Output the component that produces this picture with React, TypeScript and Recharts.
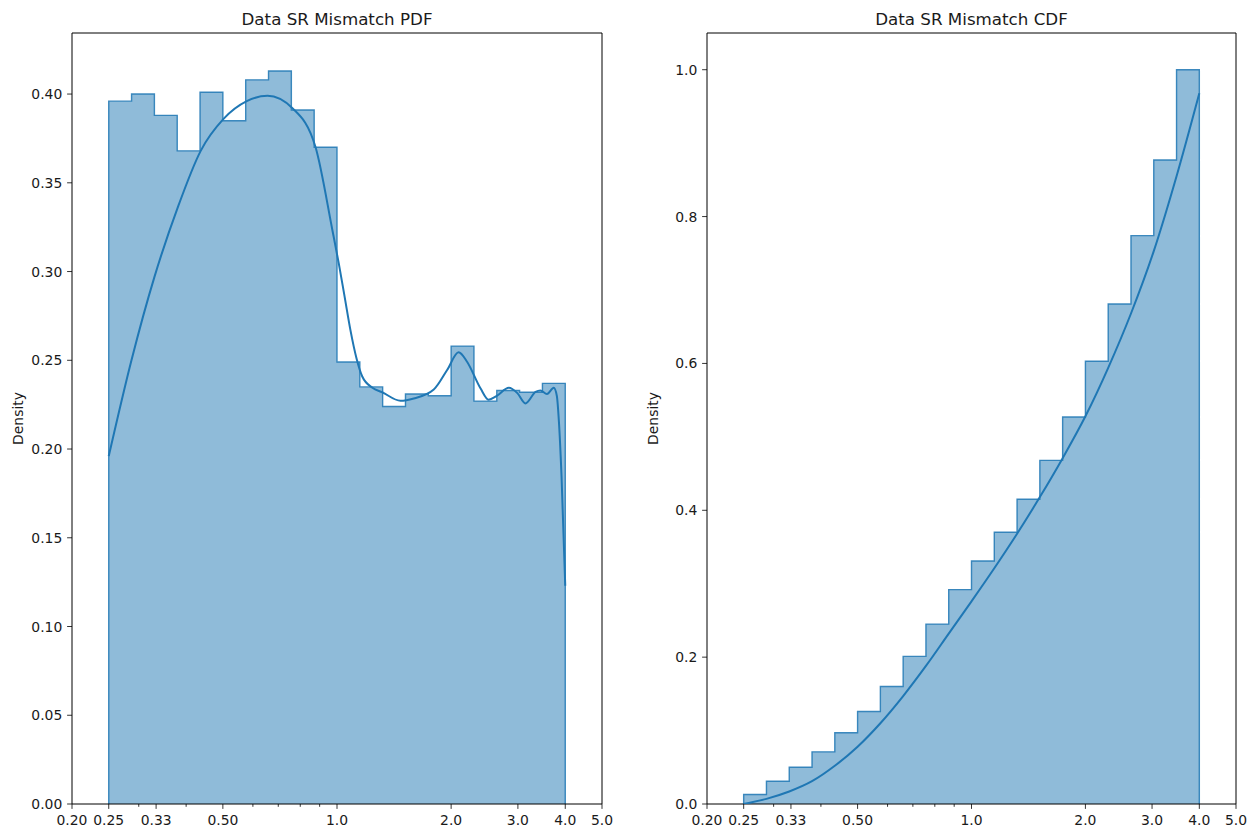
import { ComposedChart, Area, Line, XAxis, YAxis, ReferenceArea } from 'recharts';

// log-spaced bin edges shared by both histograms (20 bins, 0.25 .. 4.0)
const binEdges = [
  0.25, 0.28717, 0.32988, 0.37893, 0.43528, 0.5, 0.57435, 0.65975, 0.75786, 0.87055,
  1.0, 1.1487, 1.3195, 1.5157, 1.7411, 2.0, 2.2974, 2.639, 3.0314, 3.4822, 4.0,
];

const pdfHeights = [
  0.396, 0.4, 0.388, 0.368, 0.401, 0.385, 0.408, 0.413, 0.391, 0.37,
  0.249, 0.235, 0.224, 0.231, 0.23, 0.258, 0.227, 0.233, 0.232, 0.237,
];

const cdfHeights = [
  0.013, 0.031, 0.05, 0.071, 0.097, 0.126, 0.16, 0.201, 0.245, 0.292,
  0.331, 0.37, 0.415, 0.468, 0.527, 0.603, 0.681, 0.774, 0.877, 1.0,
];

// kde curve of the pdf panel
const pdfKdeX = [
  0.25, 0.287, 0.33, 0.38, 0.437, 0.502, 0.578, 0.656, 0.763, 0.878,
  0.973, 1.01, 1.047, 1.085, 1.126, 1.165, 1.24, 1.316, 1.47, 1.594,
  1.8, 1.952, 2.093, 2.203, 2.39, 2.51, 2.64, 2.84, 2.99, 3.14,
  3.34, 3.44, 3.58, 3.73, 3.8, 3.85, 3.91, 4.0,
];
const pdfKdeY = [
  0.196, 0.25, 0.297, 0.336, 0.368, 0.386, 0.396, 0.399, 0.392, 0.37,
  0.323, 0.305, 0.286, 0.267, 0.251, 0.241, 0.2345, 0.232, 0.2272, 0.2285,
  0.2335, 0.2445, 0.2545, 0.2492, 0.2342, 0.2278, 0.23, 0.2345, 0.2315, 0.2257,
  0.2322, 0.233, 0.231, 0.2345, 0.23, 0.215, 0.185, 0.123,
];

// kde curve of the cdf panel, sampled on the bin edges
const cdfKdeY = [
  0.0, 0.007, 0.017, 0.031, 0.052, 0.078, 0.11, 0.147, 0.188, 0.232,
  0.276, 0.321, 0.368, 0.418, 0.471, 0.528, 0.594, 0.668, 0.753, 0.855, 0.968,
];

const xTicks = [0.2, 0.25, 1 / 3, 0.5, 1, 2, 3, 4, 5];
const xTickLabels = ['0.20', '0.25', '0.33', '0.50', '1.0', '2.0', '3.0', '4.0', '5.0'];
const xMinorTicks = [0.3, 0.4, 0.6, 0.7, 0.8, 0.9];

const pdfYTicks = [0, 0.05, 0.1, 0.15, 0.2, 0.25, 0.3, 0.35, 0.4];
const cdfYTicks = [0, 0.2, 0.4, 0.6, 0.8, 1.0];

const BLUE = '#1f77b4';
const FONT = '"DejaVu Sans", sans-serif';
const TEXT = '#1a1a1a';

function stepData(heights: number[]) {
  const pts = [{ x: binEdges[0], y: 0 }];
  heights.forEach((h, i) => pts.push({ x: binEdges[i], y: h }));
  pts.push({ x: binEdges[binEdges.length - 1], y: heights[heights.length - 1] });
  pts.push({ x: binEdges[binEdges.length - 1], y: 0 });
  return pts;
}

function XTick({ x, y, payload }: any) {
  const idx = xTicks.indexOf(payload.value);
  const major = idx >= 0;
  return (
    <g>
      <line x1={x} x2={x} y1={y} y2={y + (major ? 4.9 : 2.8)} stroke="#000" strokeWidth={0.8} />
      {major && (
        <text x={x} y={y + 20.5} textAnchor="middle" fontFamily={FONT} fontSize={13.9} fill={TEXT}>
          {xTickLabels[idx]}
        </text>
      )}
    </g>
  );
}

function makeYTick(digits: number) {
  return ({ x, y, payload }: any) => (
    <g>
      <line x1={x - 4.9} x2={x} y1={y} y2={y} stroke="#000" strokeWidth={0.8} />
      <text x={x - 9.7} y={y} dy="0.36em" textAnchor="end" fontFamily={FONT} fontSize={13.9} fill={TEXT}>
        {payload.value.toFixed(digits)}
      </text>
    </g>
  );
}

interface PanelProps {
  left: number;
  width: number;
  marginLeft: number;
  marginRight: number;
  title: string;
  hist: number[];
  kdeX: number[];
  kdeY: number[];
  yMax: number;
  yTicks: number[];
  digits: number;
}

const HEIGHT = 828;
const TOP = 33;
const X_AXIS_H = 24;
const Y_AXIS_W = 60;

function Panel({ left, width, marginLeft, marginRight, title, hist, kdeX, kdeY, yMax, yTicks, digits }: PanelProps) {
  const histData = stepData(hist);
  const kdeData = kdeX.map((x, i) => ({ x, y: kdeY[i] }));
  const plotLeft = marginLeft + Y_AXIS_W;
  const plotRight = width - marginRight;
  const plotBottom = HEIGHT - X_AXIS_H;

  return (
    <div style={{ position: 'absolute', left, top: 0, width, height: HEIGHT }}>
      <ComposedChart
        width={width}
        height={HEIGHT}
        margin={{ top: TOP, right: marginRight, bottom: 0, left: marginLeft }}
      >
        <XAxis
          dataKey="x"
          type="number"
          scale="log"
          domain={[0.2, 5]}
          allowDataOverflow
          ticks={[...xTicks, ...xMinorTicks]}
          interval={0}
          tick={<XTick />}
          tickLine={false}
          axisLine={false}
          tickSize={0}
          tickMargin={0}
          height={X_AXIS_H}
        />
        <YAxis
          type="number"
          domain={[0, yMax]}
          allowDataOverflow
          ticks={yTicks}
          interval={0}
          tick={makeYTick(digits)}
          tickLine={false}
          axisLine={false}
          tickSize={0}
          tickMargin={0}
          width={Y_AXIS_W}
        />
        <Area
          data={histData}
          dataKey="y"
          type="stepAfter"
          stroke={BLUE}
          strokeOpacity={0.85}
          strokeWidth={1.4}
          fill={BLUE}
          fillOpacity={0.5}
          dot={false}
          activeDot={false}
          isAnimationActive={false}
        />
        <Line
          data={kdeData}
          dataKey="y"
          type="monotone"
          stroke={BLUE}
          strokeWidth={2}
          dot={false}
          activeDot={false}
          isAnimationActive={false}
        />
        <ReferenceArea
          x1={0.2}
          x2={5}
          y1={0}
          y2={yMax}
          fill="none"
          stroke="#000"
          strokeWidth={1}
          ifOverflow="visible"
        />
      </ComposedChart>
      <svg
        width={width}
        height={HEIGHT}
        style={{ position: 'absolute', left: 0, top: 0, pointerEvents: 'none' }}
      >
        <text
          x={(plotLeft + plotRight) / 2}
          y={25}
          textAnchor="middle"
          fontFamily={FONT}
          fontSize={16.7}
          fill={TEXT}
        >
          {title}
        </text>
        <text
          transform={`translate(${plotLeft - 49}, ${(TOP + plotBottom) / 2}) rotate(-90)`}
          textAnchor="middle"
          fontFamily={FONT}
          fontSize={13.9}
          fill={TEXT}
        >
          Density
        </text>
      </svg>
    </div>
  );
}

export default function App() {
  return (
    <div style={{ position: 'absolute', left: 0, top: 0, width: 1247, height: HEIGHT, background: '#fff' }}>
      <Panel
        left={0}
        width={620}
        marginLeft={12}
        marginRight={18}
        title="Data SR Mismatch PDF"
        hist={pdfHeights}
        kdeX={pdfKdeX}
        kdeY={pdfKdeY}
        yMax={0.4344}
        yTicks={pdfYTicks}
        digits={2}
      />
      <Panel
        left={630}
        width={617}
        marginLeft={17}
        marginRight={11}
        title="Data SR Mismatch CDF"
        hist={cdfHeights}
        kdeX={binEdges}
        kdeY={cdfKdeY}
        yMax={1.05}
        yTicks={cdfYTicks}
        digits={1}
      />
    </div>
  );
}
